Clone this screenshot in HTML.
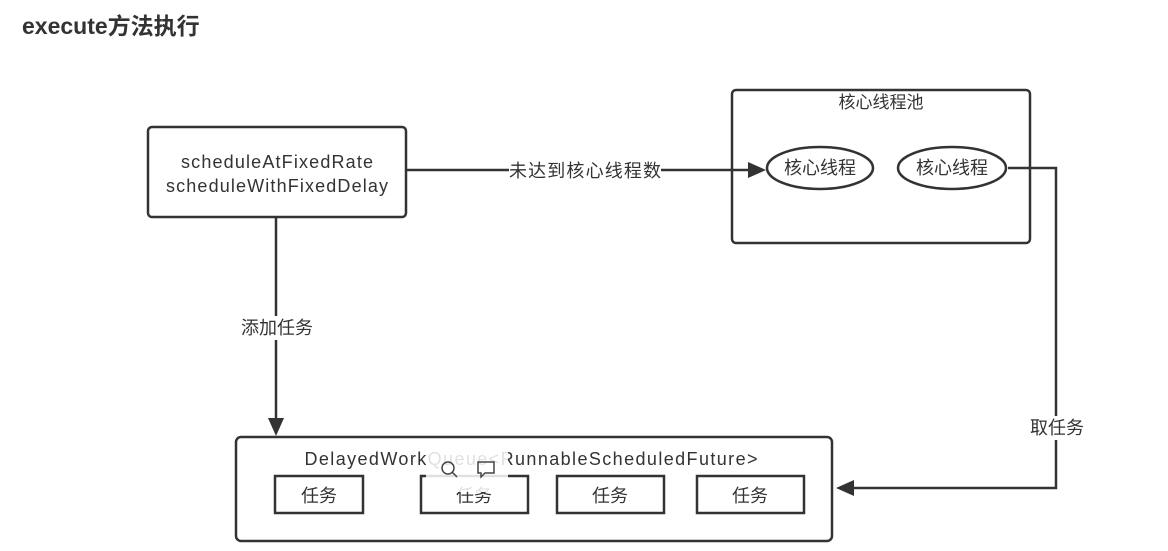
<!DOCTYPE html>
<html><head><meta charset="utf-8"><style>
body{margin:0;background:#fff;width:1168px;height:551px;overflow:hidden}
svg{display:block}
text{font-family:"Liberation Sans","Noto Sans CJK SC",sans-serif;fill:#333}
</style></head><body>
<svg width="1168" height="551" viewBox="0 0 1168 551">
<text x="22" y="34" font-size="23" font-weight="bold" fill="#333">execute方法执行</text>
<g stroke="#333" fill="none" stroke-width="2.5">
<rect x="148" y="127" width="258" height="90" rx="4"/>
<rect x="732" y="90" width="298" height="153" rx="4"/>
<ellipse cx="820" cy="168" rx="53" ry="21"/>
<ellipse cx="952" cy="168" rx="54" ry="21"/>
<rect x="236" y="437" width="596" height="104" rx="5"/>
<rect x="275" y="476" width="88" height="37"/>
<rect x="421" y="476" width="107" height="37"/>
<rect x="557" y="476" width="107" height="37"/>
<rect x="697" y="476" width="107" height="37"/>
<polyline points="406,170 752,170"/>
<polyline points="1008,168 1056,168 1056,488 852,488"/>
<polyline points="276,217 276,420"/>
</g>
<g fill="#333">
<polygon points="766,170 748,162 748,178"/>
<polygon points="836,488 854,480 854,496"/>
<polygon points="276,436 268,418 284,418"/>
</g>
<rect x="509" y="160" width="152" height="22" fill="#fff"/>
<text x="585" y="177" font-size="18" text-anchor="middle" textLength="152">未达到核心线程数</text>
<rect x="240" y="316" width="74" height="24" fill="#fff"/>
<text x="277" y="334" font-size="18" text-anchor="middle">添加任务</text>
<rect x="1029" y="416" width="56" height="24" fill="#fff"/>
<text x="1057" y="434" font-size="18" text-anchor="middle">取任务</text>
<text x="277" y="168" font-size="18" text-anchor="middle" textLength="192">scheduleAtFixedRate</text>
<text x="277" y="192" font-size="18" text-anchor="middle" textLength="222">scheduleWithFixedDelay</text>
<text x="881" y="108" font-size="17" text-anchor="middle">核心线程池</text>
<text x="820" y="174" font-size="18" text-anchor="middle">核心线程</text>
<text x="952" y="174" font-size="18" text-anchor="middle">核心线程</text>
<text x="531" y="465" font-size="18" text-anchor="middle" textLength="453">DelayedWorkQueue&lt;RunnableScheduledFuture&gt;</text>
<text x="319" y="502" font-size="18" text-anchor="middle">任务</text>
<text x="474" y="502" font-size="18" text-anchor="middle">任务</text>
<text x="610" y="502" font-size="18" text-anchor="middle">任务</text>
<text x="750" y="502" font-size="18" text-anchor="middle">任务</text>
<rect x="426" y="448" width="82" height="44" rx="4" fill="#fff" fill-opacity="0.85"/>
<g stroke="#444" stroke-width="1.5" fill="none">
<circle cx="448" cy="468" r="6"/><line x1="452" y1="472" x2="457" y2="477"/>
<path d="M478 462 h16 v11 h-9 l-4 4 v-4 h-3 z"/>
</g>
</svg>
</body></html>
